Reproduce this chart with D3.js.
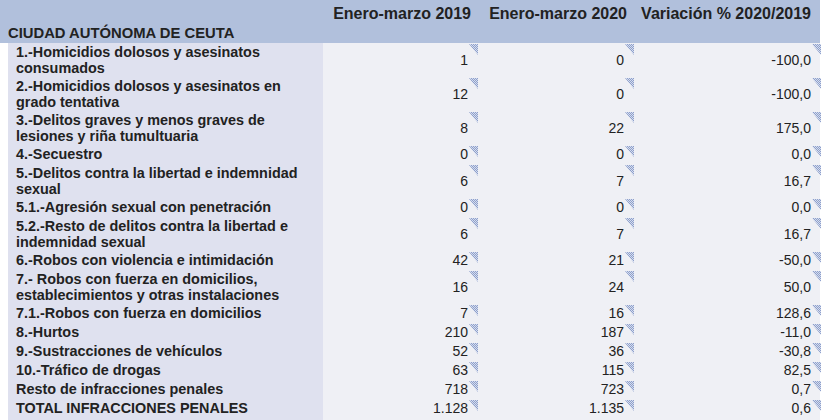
<!DOCTYPE html>
<html><head><meta charset="utf-8">
<script src="https://cdn.jsdelivr.net/npm/d3@7"></script>
<style>html,body{margin:0;padding:0;background:#fff;}svg{display:block;}</style>
</head><body>
<svg id="c" width="823" height="420"></svg>
<script>
const title = "CIUDAD AUTÓNOMA DE CEUTA";
const headers = ["Enero-marzo 2019", "Enero-marzo 2020", "Variación % 2020/2019"];
const categories = [
  ["1.-Homicidios dolosos y asesinatos", "consumados"],
  ["2.-Homicidios dolosos y asesinatos en", "grado tentativa"],
  ["3.-Delitos graves y menos graves de", "lesiones y riña tumultuaria"],
  ["4.-Secuestro"],
  ["5.-Delitos contra la libertad e indemnidad", "sexual"],
  ["5.1.-Agresión sexual con penetración"],
  ["5.2.-Resto de delitos contra la libertad e", "indemnidad sexual"],
  ["6.-Robos con violencia e intimidación"],
  ["7.- Robos con fuerza en domicilios,", "establecimientos y otras instalaciones"],
  ["7.1.-Robos con fuerza en domicilios"],
  ["8.-Hurtos"],
  ["9.-Sustracciones de vehículos"],
  ["10.-Tráfico de drogas"],
  ["Resto de infracciones penales"],
  ["TOTAL INFRACCIONES PENALES"]
];
const v2019 = [1, 12, 8, 0, 6, 0, 6, 42, 16, 7, 210, 52, 63, 718, 1128];
const v2020 = [0, 0, 22, 0, 7, 0, 7, 21, 24, 16, 187, 36, 115, 723, 1135];
const variation = [-100.0, -100.0, 175.0, 0.0, 16.7, 0.0, 16.7, -50.0, 50.0, 128.6, -11.0, -30.8, 82.5, 0.7, 0.6];

const loc = d3.formatLocale({decimal: ",", thousands: ".", grouping: [3], currency: ["", " €"], minus: "-"});
const fInt = loc.format(",d");
const fPct = loc.format(",.1f");

const svg = d3.select("#c");
const font = "'Liberation Sans', Arial, sans-serif";

const headerH = 43;
const singleH = 19, doubleH = 34;
const rowH = categories.map(c => c.length > 1 ? doubleH : singleH);
const rowTop = d3.cumsum([0].concat(rowH)).map(v => v + headerH);

const xLabelBg0 = 8, xLabelBg1 = 323, xRight = 820;
const xCol = d3.scaleOrdinal().domain([0, 1, 2]).range([468, 624, 811]);
const headerRight = d3.scaleOrdinal().domain([0, 1, 2]).range([471, 627, 811]);

const defs = svg.append("defs");
const pat = defs.append("pattern").attr("id", "hatch").attr("patternUnits", "userSpaceOnUse")
  .attr("width", 2).attr("height", 2);
pat.append("rect").attr("width", 2).attr("height", 2).attr("fill", "#d6ddee");
pat.append("rect").attr("width", 1).attr("height", 1).attr("fill", "#8d9fcb");
pat.append("rect").attr("x", 1).attr("y", 1).attr("width", 1).attr("height", 1).attr("fill", "#8d9fcb");

const lastBottom = 420;
svg.append("rect").attr("x", 0).attr("y", 0).attr("width", xRight).attr("height", headerH).attr("fill", "#b1c0dc");
svg.append("rect").attr("x", xLabelBg0).attr("y", headerH).attr("width", xLabelBg1 - xLabelBg0).attr("height", lastBottom - headerH).attr("fill", "#dfe1ef");
svg.append("rect").attr("x", xLabelBg1).attr("y", headerH).attr("width", xRight - xLabelBg1).attr("height", lastBottom - headerH).attr("fill", "#eff0f5");

svg.selectAll("text.h").data(headers).join("text").attr("class", "h")
  .attr("x", (d, i) => headerRight(i)).attr("y", 19)
  .attr("text-anchor", "end").attr("font-family", font).attr("font-weight", "bold")
  .attr("font-size", 16).attr("fill", "#222").text(d => d);
svg.append("text").attr("x", 8).attr("y", 38).attr("font-family", font).attr("font-weight", "bold")
  .attr("font-size", 14.8).attr("fill", "#222").text(title);

const rows = svg.selectAll("g.row").data(categories).join("g").attr("class", "row")
  .attr("transform", (d, i) => `translate(0,${rowTop[i]})`);

rows.each(function(lines, i) {
  const g = d3.select(this);
  const n = lines.length;
  const lh = 16;
  const firstBase = 14;
  g.selectAll("text.lab").data(lines).join("text").attr("class", "lab")
    .attr("x", 16).attr("y", (d, j) => firstBase + j * lh)
    .attr("font-family", font).attr("font-weight", "bold").attr("font-size", 14.4)
    .attr("fill", "#222").text(d => d);
  const vals = [fInt(v2019[i]), fInt(v2020[i]), fPct(variation[i])];
  const vy = n === 1 ? 14 : 22;
  const triTop = 1;
  vals.forEach((v, k) => {
    g.append("text").attr("x", xCol(k)).attr("y", vy).attr("text-anchor", "end")
      .attr("font-family", font).attr("font-size", 14).attr("fill", "#222").text(v);
    const tx = xCol(k) + 1;
    g.append("path").attr("d", `M${tx},${triTop}L${tx + 9},${triTop}L${tx + 9},${triTop + 11}Z`)
      .attr("fill", "url(#hatch)");
  });
});
</script>
</body></html>
